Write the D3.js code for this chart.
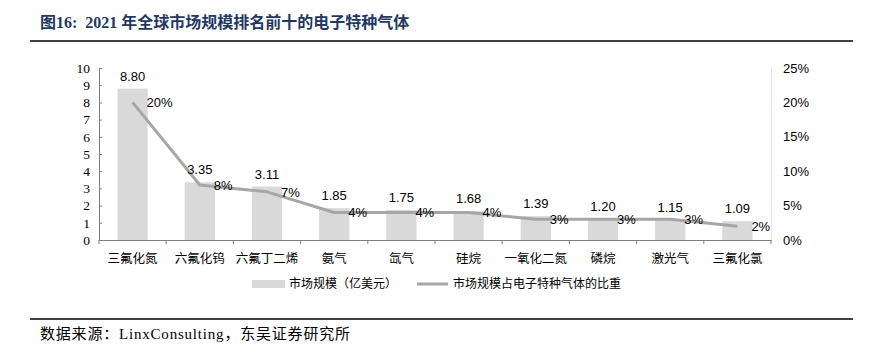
<!DOCTYPE html>
<html lang="zh">
<head>
<meta charset="UTF-8">
<title>2021年全球市场规模排名前十的电子特种气体</title>
<script src="https://cdn.jsdelivr.net/npm/d3@7/dist/d3.min.js"></script>
<style>
  body { margin: 0; background: #fff; }
  svg { display: block; }
  .serif { font-family: "Liberation Serif", "Times New Roman", serif; }
  .sans { font-family: "Liberation Sans", Arial, sans-serif; }
  .cjk { font-family: "Noto Sans CJK SC", sans-serif; }
</style>
</head>
<body>
<svg id="chart"></svg>
<script>
// data
const categories = ["三氟化氮", "六氟化钨", "六氟丁二烯", "氨气", "氙气", "硅烷", "一氧化二氮", "磷烷", "激光气", "三氟化氯"];
const marketSize = [8.80, 3.35, 3.11, 1.85, 1.75, 1.68, 1.39, 1.20, 1.15, 1.09];
const share = [20, 8, 7, 4, 4, 4, 3, 3, 3, 2];
const leftTicks = [0, 1, 2, 3, 4, 5, 6, 7, 8, 9, 10];
const rightTicks = [0, 5, 10, 15, 20, 25];

const width = 874, height = 351;
const m = { left: 99, right: 771, top: 68, bottom: 240 };

const svg = d3.select("#chart").attr("width", width).attr("height", height);

// header and footer
svg.append("text")
    .attr("x", 40).attr("y", 28)
    .attr("fill", "#1f3864")
    .attr("font-weight", "bold")
    .attr("font-size", 16)
    .style("font-family", "'Liberation Serif', 'Noto Sans CJK SC', serif")
    .style("white-space", "pre")
    .text("图16:  2021 年全球市场规模排名前十的电子特种气体");

svg.append("line").attr("x1", 30).attr("x2", 853).attr("y1", 41).attr("y2", 41)
    .attr("stroke", "#000").attr("stroke-width", 1.5);
svg.append("line").attr("x1", 30).attr("x2", 853).attr("y1", 319).attr("y2", 319)
    .attr("stroke", "#000").attr("stroke-width", 1.5);

svg.append("text")
    .attr("x", 40).attr("y", 339)
    .attr("font-size", 15)
    .attr("letter-spacing", 0.8)
    .attr("fill", "#000")
    .style("font-family", "'Liberation Serif', 'Noto Sans CJK SC', serif")
    .text("数据来源：LinxConsulting，东吴证券研究所");

// scales
const x = d3.scaleBand().domain(categories).range([m.left, m.right]).paddingInner(0.55).paddingOuter(0.275);
const xb = d3.scaleBand().domain(categories).range([m.left, m.right]);
const y = d3.scaleLinear().domain([0, 10]).range([m.bottom, m.top]);
const y2 = d3.scaleLinear().domain([0, 25]).range([m.bottom, m.top]);

// bars
svg.append("g").selectAll("rect")
    .data(marketSize)
    .join("rect")
    .attr("x", (d, i) => x(categories[i]))
    .attr("y", d => y(d))
    .attr("width", x.bandwidth())
    .attr("height", d => y(0) - y(d))
    .attr("fill", "#d9d9d9");

// left axis
const yAxis = svg.append("g")
    .attr("transform", `translate(${m.left},0)`)
    .call(d3.axisLeft(y).tickValues(leftTicks).tickSize(-3).tickPadding(9));
yAxis.select(".domain").attr("stroke", "#7f7f7f");
yAxis.selectAll(".tick line").attr("stroke", "#7f7f7f");
yAxis.selectAll("text").attr("class", "serif").attr("font-size", 13.5).attr("fill", "#000");

// right axis
const y2Axis = svg.append("g")
    .attr("transform", `translate(${m.right},0)`)
    .call(d3.axisRight(y2).tickValues(rightTicks).tickSize(0).tickPadding(12).tickFormat(d => d + "%"));
y2Axis.select(".domain").attr("stroke", "#e6e6e6");
y2Axis.selectAll("text").attr("class", "sans").attr("font-size", 13).attr("fill", "#000");

// x axis
const xAxis = svg.append("g")
    .attr("transform", `translate(0,${m.bottom})`)
    .call(d3.axisBottom(xb).tickSize(0).tickPadding(13));
xAxis.select(".domain").attr("stroke", "#7f7f7f");
xAxis.selectAll("text").attr("class", "cjk").attr("font-size", 12.5).attr("fill", "#000").attr("dy", "0.8em");
svg.append("g").selectAll("line")
    .data(d3.range(categories.length + 1))
    .join("line")
    .attr("x1", i => m.left + i * xb.step())
    .attr("x2", i => m.left + i * xb.step())
    .attr("y1", m.bottom).attr("y2", m.bottom + 4)
    .attr("stroke", "#7f7f7f");

// line series
const cx = i => xb(categories[i]) + xb.bandwidth() / 2;
svg.append("path")
    .datum(share)
    .attr("fill", "none")
    .attr("stroke", "#a6a6a6")
    .attr("stroke-width", 3)
    .attr("stroke-linejoin", "round")
    .attr("d", d3.line().x((d, i) => cx(i)).y(d => y2(d)));

// bar labels
svg.append("g").selectAll("text")
    .data(marketSize)
    .join("text")
    .attr("class", "sans")
    .attr("x", (d, i) => cx(i))
    .attr("y", d => y(d) - 8)
    .attr("text-anchor", "middle")
    .attr("font-size", 13)
    .text(d => d.toFixed(2));

// share labels
svg.append("g").selectAll("text")
    .data(share)
    .join("text")
    .attr("class", "sans")
    .attr("x", (d, i) => cx(i) + 14)
    .attr("y", d => y2(d) + 5)
    .attr("font-size", 13)
    .text(d => d + "%");

// legend
const lg = svg.append("g").attr("class", "cjk").attr("font-size", 12);
lg.append("rect").attr("x", 252).attr("y", 280).attr("width", 33).attr("height", 8).attr("fill", "#d9d9d9");
lg.append("text").attr("x", 289).attr("y", 288).text("市场规模（亿美元）");
lg.append("line").attr("x1", 417).attr("x2", 448).attr("y1", 284).attr("y2", 284)
    .attr("stroke", "#a6a6a6").attr("stroke-width", 3);
lg.append("text").attr("x", 453).attr("y", 288).text("市场规模占电子特种气体的比重");
</script>
</body>
</html>
